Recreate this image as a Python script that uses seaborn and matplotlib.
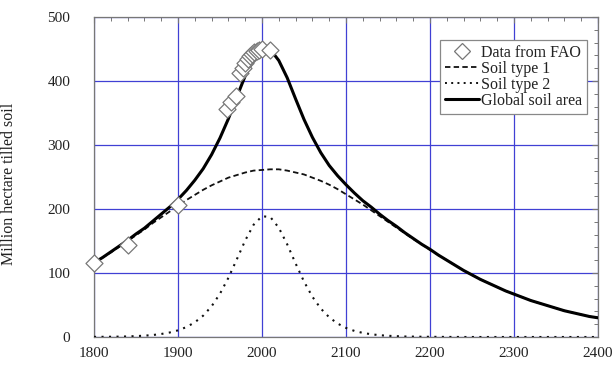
import matplotlib
matplotlib.use("Agg")
import matplotlib.pyplot as plt
from matplotlib.lines import Line2D
from matplotlib.ticker import MultipleLocator
import seaborn as sns
import pandas as pd

# ---- data ----
years = list(range(1800, 2401, 10))

soil_type1 = [116, 124, 132, 141, 150, 159, 168, 178, 187, 196,
              205, 214, 222, 230, 237, 243, 249, 253, 257, 260,
              261, 262, 262, 260, 257, 254, 249, 244, 238, 231,
              223, 215, 207, 198, 189, 180, 171, 162, 153, 145,
              136, 128, 120, 112, 104, 97, 90, 84, 78, 72,
              67, 62, 57, 53, 49, 45, 41, 38, 35, 32, 30]

soil_type2 = [0.2, 0.3, 0.4, 0.6, 0.9, 1.4, 2.1, 3.1, 4.7, 7.0,
              10.4, 15.5, 22.9, 33.4, 48.0, 67.7, 92.5, 121.3, 150.8, 175.4,
              188.8, 187.3, 170.7, 144.8, 114.9, 86.7, 62.9, 44.4, 30.8, 21.0,
              14.2, 9.5, 6.4, 4.3, 2.8, 1.9, 1.3, 0.8, 0.6, 0.4,
              0.3, 0.2, 0.1, 0.1, 0, 0, 0, 0, 0, 0,
              0, 0, 0, 0, 0, 0, 0, 0, 0, 0, 0]

global_area = [116, 124, 133, 142, 151, 161, 170, 181, 192, 203,
               215, 229, 245, 263, 285, 311, 341, 375, 408, 435,
               450, 449, 432, 405, 372, 340, 312, 288, 268, 252,
               238, 225, 213, 203, 192, 182, 173, 163, 154, 145,
               137, 128, 120, 112, 104, 97, 90, 84, 78, 72,
               67, 62, 57, 53, 49, 45, 41, 38, 35, 32, 30]

fao_years = [1800, 1841, 1900, 1958, 1963, 1969, 1974, 1977, 1980, 1983,
             1986, 1988, 1991, 1994, 1997, 2000, 2010]
fao_values = [116, 144, 207, 357, 367, 376, 412, 421, 428, 434,
              439, 442, 445, 447, 449, 450, 449]

x_ticks = [1800, 1900, 2000, 2100, 2200, 2300, 2400]
y_ticks = [0, 100, 200, 300, 400, 500]

curves = pd.DataFrame({"year": years, "t1": soil_type1,
                       "t2": soil_type2, "glob": global_area})
fao = pd.DataFrame({"year": fao_years, "value": fao_values})

# ---- style ----
sns.set_theme(style="white")
plt.rcParams["font.family"] = ["Liberation Serif", "DejaVu Serif"]
fs = 11.5
tick_fs = 11
plt.rcParams["font.size"] = fs
text_color = "#222222"

fig = plt.figure(figsize=(6.12, 3.74), dpi=100)
ax = fig.add_axes([94 / 612, 1 - 337 / 374, 504 / 612, 320 / 374])

grid_color = "#4040d4"
ax.set_xlim(1800, 2400)
ax.set_ylim(0, 500)
ax.set_xticks(x_ticks)
ax.set_yticks(y_ticks)
ax.xaxis.set_minor_locator(MultipleLocator(20))
ax.yaxis.set_minor_locator(MultipleLocator(20))
ax.grid(True, which="major", color=grid_color, linewidth=0.9, zorder=0)
ax.set_axisbelow(True)

sns.lineplot(data=curves, x="year", y="t1", ax=ax, color="#111111",
             linewidth=1.3, zorder=3)
ax.lines[-1].set_dashes((3, 1.8))
sns.lineplot(data=curves, x="year", y="t2", ax=ax, color="#111111",
             linewidth=1.5, zorder=3)
ax.lines[-1].set_dashes((1, 2.6))
sns.lineplot(data=curves, x="year", y="glob", ax=ax, color="#000000",
             linewidth=2.2, zorder=4)
sns.scatterplot(data=fao, x="year", y="value", ax=ax, marker="D", s=75,
                facecolor="white", edgecolor="#777777", linewidth=0.9,
                zorder=5, clip_on=False)

for sp in ax.spines.values():
    sp.set_color("#777777")
    sp.set_linewidth(0.9)
ax.tick_params(which="both", direction="in", top=True, right=True,
               colors="#777777", labelcolor=text_color, labelsize=tick_fs)
ax.tick_params(which="major", length=4, width=0.8)
ax.tick_params(which="minor", length=3, width=0.7)
ax.tick_params(axis="y", which="major", pad=17)
ax.tick_params(axis="x", which="major", pad=7)

ax.set_xlabel("")
ax.set_ylabel("Million hectare tilled soil", color=text_color, fontsize=fs)
ax.yaxis.set_label_coords(-0.152, 0.48)

handles = [
    Line2D([], [], linestyle="none", marker="D", markersize=8,
           markerfacecolor="white", markeredgecolor="#777777",
           markeredgewidth=0.9),
    Line2D([], [], color="#111111", linewidth=1.3, dashes=(3, 1.8)),
    Line2D([], [], color="#111111", linewidth=1.4, dashes=(1, 2.2)),
    Line2D([], [], color="#000000", linewidth=2.2),
]
labels = ["Data from FAO", "Soil type 1", "Soil type 2", "Global soil area"]
leg = ax.legend(handles, labels, loc="upper right",
                bbox_to_anchor=(0.978, 0.928), frameon=True, fancybox=False,
                framealpha=1, edgecolor="#888888", fontsize=fs,
                handlelength=2.1, handletextpad=0.15, borderpad=0.3,
                labelspacing=0.0, borderaxespad=0)
leg.get_frame().set_linewidth(0.9)
for t in leg.get_texts():
    t.set_color(text_color)

fig.savefig("out.png", dpi=100)
